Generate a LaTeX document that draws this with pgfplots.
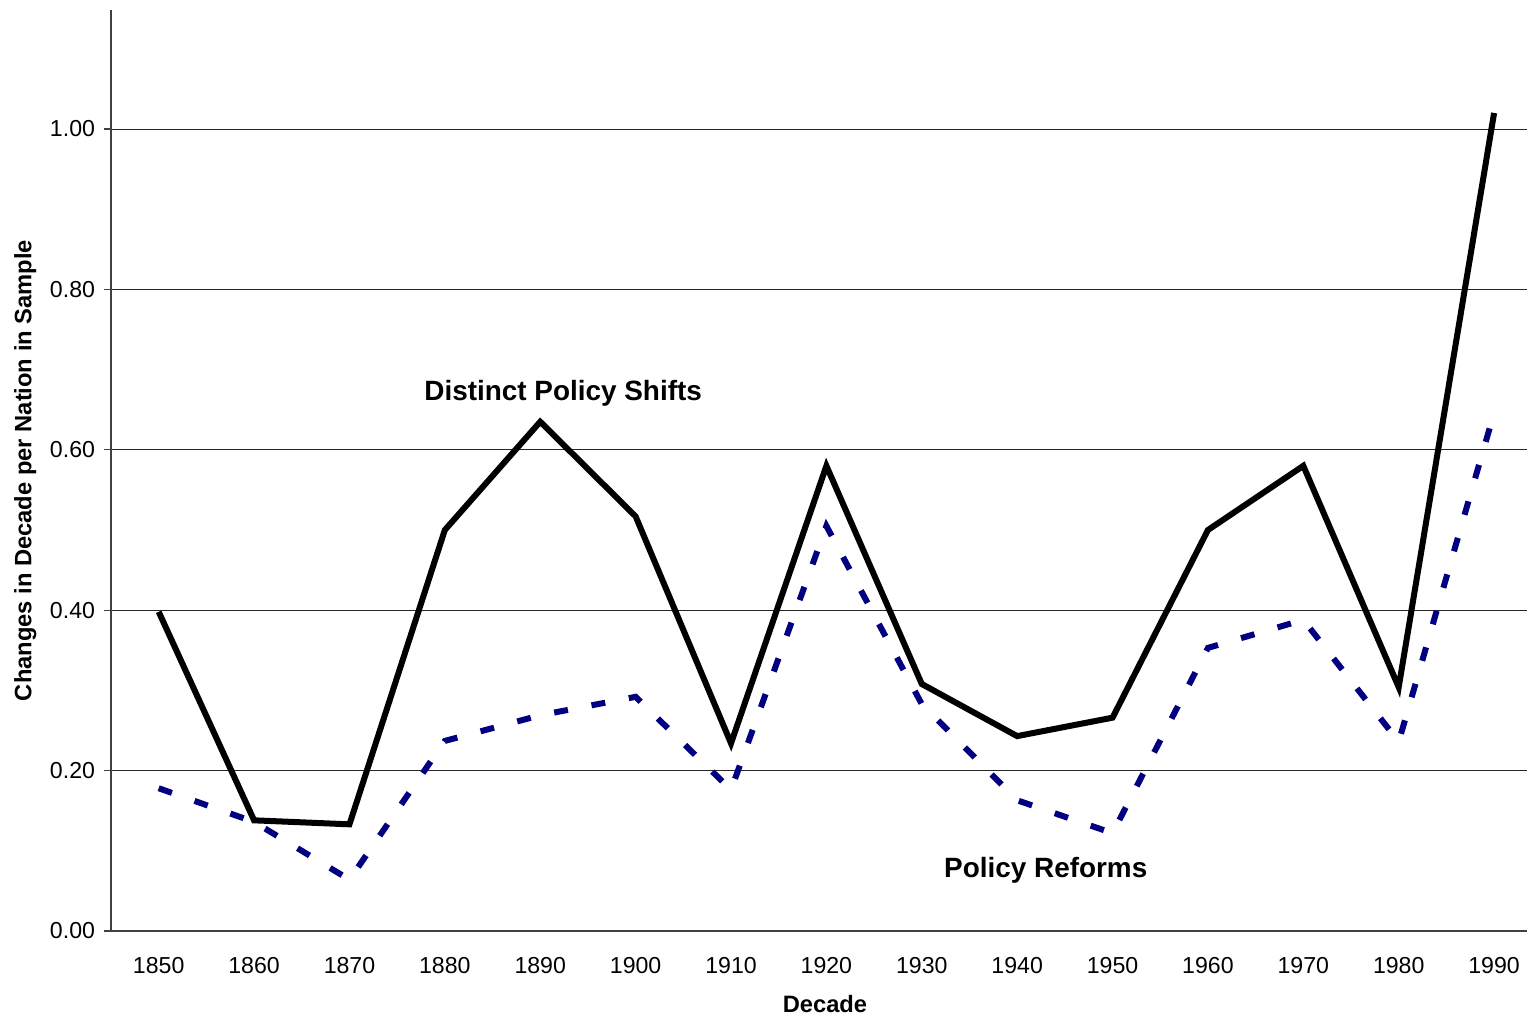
\documentclass[border=0pt]{standalone}
\usepackage{fontspec}
\setmainfont{Liberation Sans}
\usepackage{pgfplots}
\pgfplotsset{compat=1.18}
\definecolor{navyline}{RGB}{0,0,128}

\begin{document}
\begin{tikzpicture}
	\begin{axis}[
		scale only axis,
		width=708bp, height=460.5bp,
		xmin=-0.5, xmax=14.345,
		ymin=0, ymax=1.1484,
		axis lines*=left,
		axis line style={black!75, line width=0.6bp},
		xtick={0,...,14},
		xticklabels={1850,1860,1870,1880,1890,1900,1910,1920,1930,1940,1950,1960,1970,1980,1990},
		ytick={0,0.2,0.4,0.6,0.8,1.0},
		yticklabel={\pgfmathprintnumber[fixed,fixed zerofill,precision=2]{\tick}},
		/pgf/number format/assume math mode=true,
		ymajorgrids=true,
		grid style={black!85, line width=0.5bp},
		x tick style={draw=none},
		y tick style={black!75, line width=0.6bp},
		tick align=outside,
		major tick length=3.5bp,
		tick label style={font=\fontsize{11.6}{13}\selectfont},
		xticklabel style={yshift=-6bp},
		yticklabel style={xshift=-1bp},
		xlabel={\bfseries Decade},
		ylabel={\bfseries Changes in Decade per Nation in Sample},
		label style={font=\fontsize{11.9}{13}\selectfont\bfseries},
		xlabel style={yshift=-4bp, xshift=3bp},
		ylabel style={yshift=0bp},
		clip=false,
	]
		% Distinct policy shifts
		\addplot[black, line width=3bp, line join=miter, mark=none]
			coordinates {(0,0.398) (1,0.138) (2,0.133) (3,0.500) (4,0.635) (5,0.517) (6,0.234) (7,0.580) (8,0.308) (9,0.243) (10,0.266) (11,0.500) (12,0.580) (13,0.304) (14,1.020)};

		% Policy reforms
		\addplot[navyline, line width=3bp, dash pattern=on 7bp off 12bp, mark=none]
			coordinates {(0,0.178) (1,0.136) (2,0.064) (3,0.237) (4,0.269) (5,0.292) (6,0.176) (7,0.505) (8,0.283) (9,0.163) (10,0.122) (11,0.353) (12,0.388) (13,0.236) (14,0.646)};

		\node[font=\fontsize{14}{16}\selectfont\bfseries] at (axis cs:4.24,0.670) {Distinct Policy Shifts};
		\node[font=\fontsize{14}{16}\selectfont\bfseries] at (axis cs:9.30,0.0755) {Policy Reforms};
	\end{axis}
	\pgfresetboundingbox
	\path (-55.5bp,-42.5bp) rectangle (708bp,465.5bp);
\end{tikzpicture}
\end{document}
